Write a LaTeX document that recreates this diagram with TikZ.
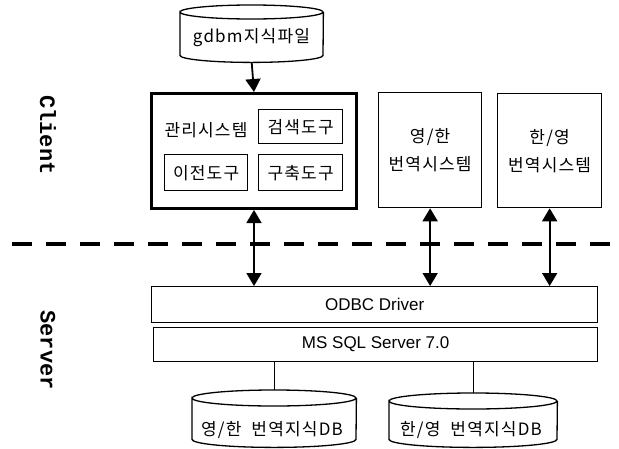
\documentclass[tikz,border=0pt]{standalone}
\usepackage{fontspec}
\setmainfont{Liberation Sans}
\newfontfamily\krfont[LetterSpace=7]{Noto Sans CJK KR}
\newfontfamily\lblfont{Liberation Mono}
\usetikzlibrary{arrows.meta}
\newcommand\drawcylinder[3]{% name, x radius, y radius
  \draw[cylline] ([yshift=-#3]#1.north west) arc[start angle=180,end angle=-180,x radius=#2,y radius=#3]
    -- ([yshift=#3]#1.south west) arc[start angle=180,end angle=360,x radius=#2,y radius=#3]
    -- ([yshift=-#3]#1.north east);}
\begin{document}
\begin{tikzpicture}[x=1pt,y=-1pt,
  box/.style={draw,line width=1.3pt,inner sep=0pt,anchor=north west},
  bigbox/.style={draw,line width=3pt,inner sep=0pt,anchor=north west},
  cylnode/.style={inner sep=0pt,anchor=north west},
  cylline/.style={draw,line width=1.3pt},
  kr/.style={font=\krfont\fontsize{17}{28}\selectfont},
  lat/.style={font=\fontsize{17}{20}\selectfont},
  side/.style={font=\lblfont\bfseries\fontsize{22}{24}\selectfont,rotate=-90},
  conn/.style={line width=1.8pt,{Triangle[width=15pt,length=13pt]}-{Triangle[width=15pt,length=13pt]}},
  oneway/.style={line width=1.8pt,-{Triangle[width=15pt,length=13pt]}},
  plain/.style={line width=1.3pt}
]
\useasboundingbox (0,0) rectangle (619,448);

% side labels
\node[side] (client) at (48,135) {Client};
\node[side] (server) at (48,350) {Server};

% dashed separator
\coordinate (dl) at (12,244);
\coordinate (dr) at (619,244);
\draw[line width=4.5pt,dash pattern=on 20pt off 14pt] (dl) -- (dr);

% gdbm cylinder
\node[cylnode,minimum width=143pt,minimum height=57pt] (g) at (180,5) {};
\drawcylinder{g}{71.5pt}{7pt}
\node[kr] (gt) at (251.5,38) {gdbm지식파일};

% management box
\node[bigbox,minimum width=205pt,minimum height=115pt] (mgmt) at (150,92) {};
\node[kr] (mgt) at (206,130) {관리시스템};
\node[box,kr,minimum width=84pt,minimum height=34pt] (search) at (258,109) {검색도구};
\node[box,kr,minimum width=83pt,minimum height=36pt] (move) at (164,154) {이전도구};
\node[box,kr,minimum width=84pt,minimum height=36pt] (build) at (258,154) {구축도구};

% translation boxes
\node[box,kr,minimum width=103pt,minimum height=115pt,align=center] (ek) at (378,92) {영/한\\번역시스템};
\node[box,kr,minimum width=104pt,minimum height=114pt,align=center] (ke) at (497,93) {한/영\\번역시스템};

% server boxes
\node[box,lat,minimum width=446pt,minimum height=36pt] (odbc) at (151,286) {ODBC Driver};
\node[box,lat,minimum width=444pt,minimum height=34pt] (sql) at (153,327) {MS SQL Server 7.0};

% DB cylinders
\node[cylnode,minimum width=164pt,minimum height=57pt] (db1) at (192,390) {};
\drawcylinder{db1}{82pt}{8pt}
\node[kr] (db1t) at (272,430) {영/한\ \ 번역지식DB};
\node[cylnode,minimum width=168pt,minimum height=54pt] (db2) at (389,393) {};
\drawcylinder{db2}{84pt}{8pt}
\node[kr] (db2t) at (471,430) {한/영\ \ 번역지식DB};

% connectors
\draw[oneway] (g.south) -- (mgmt.north);
\draw[conn] (mgmt.south) -- (mgmt.south |- odbc.north);
\draw[conn] (ek.south) -- (ek.south |- odbc.north);
\draw[conn] (ke.south) -- (ke.south |- odbc.north);
\draw[plain] (db1.north |- sql.south) -- (db1.north);
\draw[plain] (db2.north |- sql.south) -- (db2.north);
\end{tikzpicture}
\end{document}
